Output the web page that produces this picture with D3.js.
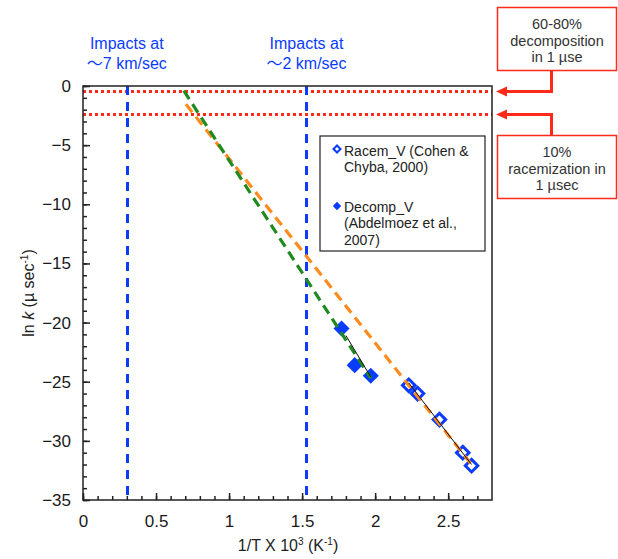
<!DOCTYPE html>
<html>
<head>
<meta charset="utf-8">
<script src="https://cdn.jsdelivr.net/npm/d3@7"></script>
<style>
  body { margin: 0; background: #fff; }
  svg { display: block; font-family: "Liberation Sans", Arial, sans-serif; }
</style>
</head>
<body>
<div id="chart"></div>
<script>
// Data
const racem = [[2.23, -25.3], [2.29, -26.0], [2.44, -28.2], [2.60, -31.0], [2.66, -32.1]];
const decomp = [[1.77, -20.5], [1.86, -23.6], [1.97, -24.5]];
// fitted trend lines (thin black) and their extrapolations (dashed)
const racemFit = [[2.23, -25.1], [2.66, -32.0]];
const decompFit = [[1.80, -21.1], [1.97, -24.6]];
const racemExtrap = [[0.705, -1.55], [2.66, -32.0]];
const decompExtrap = [[0.69, -0.4], [1.97, -24.7]];
// reference lines
const impactX = [0.3, 1.53];
const impactLabels = [["Impacts at", "7 km/sec"], ["Impacts at", "2 km/sec"]];
const limitY = [-0.45, -2.4];
const limitLabels = [["60-80%", "decomposition", "in 1 \u00B5se"], ["10%", "racemization in", "1 \u00B5sec"]];
const xTicks = [0, 0.5, 1, 1.5, 2, 2.5];
const yTicks = [0, -5, -10, -15, -20, -25, -30, -35];

const width = 618, height = 559;
const blue = "#0a3cff", red = "#ff2a1a";

const svg = d3.select("#chart").append("svg")
    .attr("width", width).attr("height", height);
svg.append("rect").attr("width", width).attr("height", height).attr("fill", "#fff");

const x = d3.scaleLinear().domain([0, 2.8]).range([83, 492]);
const y = d3.scaleLinear().domain([-35, 0]).range([500, 86]);

const line = d3.line().x(d => x(d[0])).y(d => y(d[1]));
// snap thick horizontal strokes to the pixel grid so they stay crisp
const crisp = v => Math.round(v) + 0.5;

// minor ticks (inward)
const xAxisMinor = d3.axisBottom(x).tickValues(d3.range(0, 28).map(i => i / 10))
    .tickSize(-4).tickFormat("");
svg.append("g").attr("transform", "translate(0," + y(-35) + ")").call(xAxisMinor);
const yAxisMinor = d3.axisLeft(y).tickValues(d3.range(-35, 1))
    .tickSize(-4).tickFormat("");
svg.append("g").attr("transform", "translate(" + x(0) + ",0)").call(yAxisMinor);

// major ticks with labels
const xAxis = d3.axisBottom(x).tickValues(xTicks).tickSize(-7).tickPadding(15)
    .tickFormat(d3.format("~g"));
svg.append("g").attr("class", "xaxis").attr("transform", "translate(0," + y(-35) + ")").call(xAxis);
const yAxis = d3.axisLeft(y).tickValues(yTicks).tickSize(-7).tickPadding(12)
    .tickFormat(d3.format("~g"));
svg.append("g").attr("class", "yaxis").attr("transform", "translate(" + x(0) + ",0)").call(yAxis);

svg.selectAll(".domain").remove();
svg.selectAll(".tick line").attr("stroke", "#222").attr("stroke-width", 1.5);
svg.selectAll(".xaxis text, .yaxis text").attr("font-size", 17).attr("fill", "#1a1a1a")
    .attr("font-family", "Liberation Sans, Arial, sans-serif");

// red dotted limits
svg.selectAll(".limit").data(limitY).join("line")
    .attr("x1", x(0)).attr("x2", x(2.8))
    .attr("y1", d => crisp(y(d))).attr("y2", d => crisp(y(d)))
    .attr("stroke", red).attr("stroke-width", 3).attr("stroke-dasharray", "3,3");

// blue dashed impacts
svg.selectAll(".impact").data(impactX).join("line")
    .attr("x1", d => crisp(x(d))).attr("x2", d => crisp(x(d)))
    .attr("y1", y(0)).attr("y2", y(-35))
    .attr("stroke", blue).attr("stroke-width", 3).attr("stroke-dasharray", "9,7");

impactX.forEach((v, i) => {
  const t = svg.append("text").attr("text-anchor", "middle").attr("fill", blue)
      .attr("font-size", 16);
  t.append("tspan").attr("x", x(v)).attr("y", 49).text(impactLabels[i][0]);
  const t2 = svg.append("text").attr("text-anchor", "middle").attr("fill", blue)
      .attr("font-size", 16).attr("x", x(v)).attr("y", 69);
  t2.append("tspan").attr("font-family", "Noto Sans CJK JP").text("\uFF5E");
  t2.append("tspan").text(impactLabels[i][1]);
});

// markers
const diamond = d3.symbol().type(d3.symbolDiamond2);
svg.selectAll(".racem").data(racem).join("path")
    .attr("d", diamond.size(100)())
    .attr("transform", d => "translate(" + x(d[0]) + "," + y(d[1]) + ")")
    .attr("fill", "#fff").attr("stroke", blue).attr("stroke-width", 3);
svg.selectAll(".decomp").data(decomp).join("path")
    .attr("d", diamond.size(165)())
    .attr("transform", d => "translate(" + x(d[0]) + "," + y(d[1]) + ")")
    .attr("fill", blue);

// extrapolations
svg.append("path").datum(racemExtrap).attr("d", line)
    .attr("stroke", "#ff8a1e").attr("stroke-width", 3.2).attr("stroke-dasharray", "10,6").attr("fill", "none");
svg.append("path").datum(decompExtrap).attr("d", line)
    .attr("stroke", "#1f8a1f").attr("stroke-width", 3.2).attr("stroke-dasharray", "10,6").attr("fill", "none");
// fits
[racemFit, decompFit].forEach(f => {
  svg.append("path").datum(f).attr("d", line)
      .attr("stroke", "#111").attr("stroke-width", 1).attr("fill", "none");
});

// plot border
svg.append("rect").attr("x", x(0)).attr("y", y(0))
    .attr("width", x(2.8) - x(0)).attr("height", y(-35) - y(0))
    .attr("fill", "none").attr("stroke", "#222").attr("stroke-width", 1.5);

// legend
const lg = svg.append("g").attr("font-size", 14).attr("fill", "#222");
lg.append("rect").attr("x", 320).attr("y", 136).attr("width", 165).attr("height", 115)
    .attr("fill", "#fff").attr("stroke", "#222").attr("stroke-width", 1.2);
lg.append("path").attr("d", d3.symbol().type(d3.symbolDiamond2).size(32)())
    .attr("transform", "translate(337,149)")
    .attr("fill", "#fff").attr("stroke", blue).attr("stroke-width", 2);
lg.append("path").attr("d", d3.symbol().type(d3.symbolDiamond2).size(45)())
    .attr("transform", "translate(337,206)").attr("fill", blue);
const lt = lg.append("text");
[["Racem_V (Cohen &", 156], ["Chyba, 2000)", 172], ["Decomp_V", 212], ["(Abdelmoez et al.,", 228], ["2007)", 245]]
  .forEach(d => lt.append("tspan").attr("x", 344).attr("y", d[1]).text(d[0]));

// callout boxes
const boxTop = [7, 135];
limitY.forEach((v, i) => {
  const ly = crisp(y(v));
  svg.append("rect").attr("x", 497.5).attr("y", boxTop[i] + 0.5).attr("width", 119).attr("height", 63)
      .attr("fill", "#fff").attr("stroke", red).attr("stroke-width", 1.5);
  const t = svg.append("text").attr("text-anchor", "middle").attr("font-size", 14.5).attr("fill", "#333");
  limitLabels[i].forEach((s, j) => {
    t.append("tspan").attr("x", 557).attr("y", boxTop[i] + 22 + j * 16.5).text(s);
  });
  const by = i === 0 ? boxTop[i] + 63 : boxTop[i];
  svg.append("path")
      .attr("d", "M551.5," + by + "V" + ly + "H506")
      .attr("fill", "none").attr("stroke", red).attr("stroke-width", 3);
  svg.append("path")
      .attr("d", "M496," + ly + "l11,-5v10z").attr("fill", red);
});

// axis titles
const xt = svg.append("text").attr("x", 288).attr("y", 551).attr("text-anchor", "middle")
    .attr("font-size", 16).attr("fill", "#222");
xt.append("tspan").text("1/T X 10");
xt.append("tspan").attr("font-size", 10).attr("dy", -6).text("3");
xt.append("tspan").attr("dy", 6).text(" (K");
xt.append("tspan").attr("font-size", 10).attr("dy", -6).text("-1");
xt.append("tspan").attr("dy", 6).text(")");

const yt = svg.append("text").attr("transform", "translate(34," + y(-17.5) + ") rotate(-90)")
    .attr("text-anchor", "middle").attr("font-size", 16).attr("fill", "#222");
yt.append("tspan").text("ln ");
yt.append("tspan").attr("font-style", "italic").text("k");
yt.append("tspan").text(" (\u00B5 sec");
yt.append("tspan").attr("font-size", 10).attr("dy", -6).text("-1");
yt.append("tspan").attr("dy", 6).text(")");
</script>
</body>
</html>
